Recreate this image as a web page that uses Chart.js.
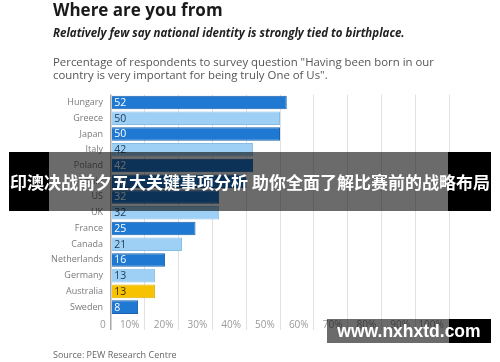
<!DOCTYPE html>
<html>
<head>
<meta charset="utf-8">
<script src="https://cdn.jsdelivr.net/npm/chart.js@4.4.1/dist/chart.umd.min.js"></script>
<style>
  html, body { margin: 0; padding: 0; background: #fff; }
  #wrap { position: relative; width: 500px; height: 362px; overflow: hidden; background: #fff; font-family: "Open Sans", sans-serif; }
  #c { position: absolute; left: 0; top: 0; }
  .t { position: absolute; white-space: nowrap; }
  #title { left: 53px; top: -2px; font-size: 17px; font-weight: 700; color: #1a1a1a; }
  #sub { left: 53px; top: 25px; font-size: 11.5px; font-weight: 700; font-style: italic; color: #222; }
  #desc { left: 53px; top: 55px; font-size: 11.4px; line-height: 13px; color: #555; }
  #src { left: 53px; top: 348px; font-size: 9px; color: #666; }
  .ov { position: absolute; }
  #banL { left: 9px; top: 152px; width: 40px; height: 59px; background: #000; }
  #banR { left: 448px; top: 152px; width: 43px; height: 59px; background: #000; }
  #banGrey { left: 49px; top: 152px; width: 399px; height: 59px; background: rgba(0,0,0,0.58); }
  #banText { left: 0; top: 152px; width: 500px; height: 59px; line-height: 59px; text-align: center; color: #fff; font-family: "Noto Sans CJK SC", sans-serif; font-weight: 700; font-size: 17px; }
  #wmR { left: 449px; top: 319px; width: 42px; height: 24px; background: #000; }
  #wmGrey { left: 327px; top: 319px; width: 122px; height: 24px; background: rgba(0,0,0,0.58); }
  #wmText { left: 327px; top: 319px; width: 164px; height: 24px; line-height: 24px; text-align: center; color: #fff; font-family: "Liberation Sans", Arial, sans-serif; font-weight: 700; font-size: 17.5px; }
</style>
</head>
<body>
<div id="wrap">
  <canvas id="c" width="500" height="362"></canvas>
  <div class="t" id="title">Where are you from</div>
  <div class="t" id="sub">Relatively few say national identity is strongly tied to birthplace.</div>
  <div class="t" id="desc">Percentage of respondents to survey question "Having been born in our<br>country is very important for being truly One of Us".</div>
  <div class="t" id="src">Source: PEW Research Centre</div>
  <div class="ov" id="banL"></div>
  <div class="ov" id="banR"></div>
  <div class="ov" id="banGrey"></div>
  <div class="ov t" id="banText">印澳决战前夕五大关键事项分析 助你全面了解比赛前的战略布局</div>
  <div class="ov" id="wmR"></div>
  <div class="ov" id="wmGrey"></div>
  <div class="ov t" id="wmText">www.nxhxtd.com</div>
</div>
<script>
const countries = ["Hungary","Greece","Japan","Italy","Poland","Spain","US","UK","France","Canada","Netherlands","Germany","Australia","Sweden"];
const values = [52,50,50,42,42,40,32,32,25,21,16,13,13,8];
const barKinds = ["dark","light","dark","light","dark","dark","dark","light","dark","light","dark","light","yellow","dark"];
const xTicks = [0,10,20,30,40,50,60,70,80,90,100];

const fillFor = {dark: "#1f78d1", light: "#9dd0f4", yellow: "#f7c300"};
const borderFor = {dark: "#1a63ad", light: "#86bde6", yellow: "#e0ae00"};
const textFor = {dark: "#ffffff", light: "#1d3a57", yellow: "#3a3010"};

const valueLabels = {
  id: "valueLabels",
  afterDatasetsDraw(chart) {
    const ctx = chart.ctx;
    const meta = chart.getDatasetMeta(0);
    ctx.save();
    ctx.font = "10.5px 'Open Sans', sans-serif";
    ctx.textBaseline = "middle";
    ctx.textAlign = "left";
    meta.data.forEach((bar, i) => {
      ctx.fillStyle = textFor[barKinds[i]];
      ctx.fillText(String(values[i]), bar.base + 2.5, bar.y + 0.5);
    });
    ctx.restore();
  }
};

new Chart(document.getElementById("c"), {
  type: "bar",
  data: {
    labels: countries,
    datasets: [{
      data: values,
      backgroundColor: barKinds.map(k => fillFor[k]),
      borderColor: barKinds.map(k => borderFor[k]),
      borderWidth: 1,
      categoryPercentage: 1,
      barPercentage: 0.86
    }]
  },
  options: {
    indexAxis: "y",
    responsive: false,
    animation: false,
    devicePixelRatio: 1,
    layout: { padding: { top: 94.6, right: 51, bottom: 0, left: 0 } },
    plugins: { legend: { display: false }, tooltip: { enabled: false } },
    scales: {
      x: {
        type: "linear",
        min: 0, max: 100,
        afterBuildTicks(scale) { scale.ticks = xTicks.map(v => ({ value: v })); },
        afterFit(scale) { scale.height = 47; },
        border: { display: false },
        grid: {
          color: ctx => ctx.tick && ctx.tick.value === 0 ? "#a8a8a8" : "#e2e2e2",
          lineWidth: ctx => ctx.tick && ctx.tick.value === 0 ? 1.5 : 1,
          drawTicks: true,
          tickLength: 15
        },
        ticks: {
          align: "end",
          padding: -11,
          color: "#9a9a9a",
          font: { family: "'Open Sans', sans-serif", size: 10 },
          maxRotation: 0,
          autoSkip: false,
          callback: v => (v === 0 ? "0" : v + "%") + "  "
        }
      },
      y: {
        afterFit(scale) { scale.width = 111; },
        border: { display: false },
        grid: { display: false, drawTicks: false },
        ticks: {
          padding: 8,
          color: "#7a7a7a",
          font: { family: "'Open Sans', sans-serif", size: 9 },
          autoSkip: false
        }
      }
    }
  },
  plugins: [valueLabels]
});
</script>
</body>
</html>
